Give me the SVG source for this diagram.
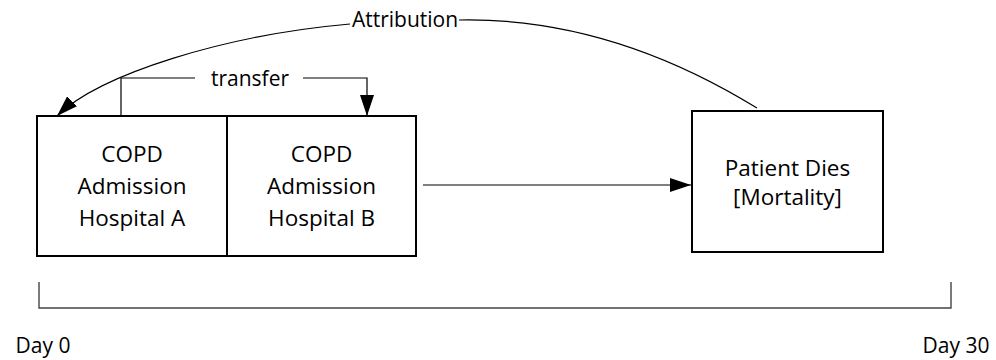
<svg xmlns="http://www.w3.org/2000/svg" width="996" height="360" viewBox="0 0 996 360">
<style>
.box{fill:#fff;stroke:#000;stroke-width:2}
.lbl{font-family:"Open Sans","Liberation Sans",sans-serif;font-size:22.5px;fill:#000;text-anchor:middle}
.sm{font-family:"Open Sans","Liberation Sans",sans-serif;font-size:21px;fill:#000;text-anchor:middle}
.con{fill:none;stroke:#000;stroke-width:1.2}
.brk{fill:none;stroke:#444;stroke-width:1.4}
</style>
<defs>
<marker id="arr" markerUnits="userSpaceOnUse" markerWidth="21" markerHeight="14" refX="21" refY="7" orient="auto">
<path d="M0,0 L21,7 L0,14 z" fill="#000"/>
</marker>
</defs>
<rect width="996" height="360" fill="#fff"/>
<g id="hospitalA">
<rect class="box" x="37" y="116" width="190" height="140"/>
<text class="lbl" x="132" y="162">COPD</text>
<text class="lbl" x="132" y="194">Admission</text>
<text class="lbl" x="132" y="226">Hospital A</text>
</g>
<g id="hospitalB">
<rect class="box" x="227" y="116" width="189" height="140"/>
<text class="lbl" x="321.5" y="162">COPD</text>
<text class="lbl" x="321.5" y="194">Admission</text>
<text class="lbl" x="321.5" y="226">Hospital B</text>
</g>
<g id="patientDies">
<rect class="box" x="692" y="111" width="191" height="141"/>
<text class="lbl" x="787.5" y="176">Patient Dies</text>
<text class="lbl" x="787.5" y="205">[Mortality]</text>
</g>
<g id="connectors">
<path class="con" d="M121,116 V78 H195"/>
<path class="con" d="M303,78 H367 V116" marker-end="url(#arr)"/>
<text class="sm" x="250" y="86">transfer</text>
<line class="con" x1="423" y1="185" x2="691" y2="185" marker-end="url(#arr)"/>
<path class="con" d="M757,108 Q609,17 459,20"/>
<path class="con" d="M350,24 C225,35 100,74 57,116" marker-end="url(#arr)"/>
<text class="sm" x="405" y="27">Attribution</text>
</g>
<g id="timeline">
<path class="brk" d="M39,282 V308 H951 V282"/>
<text class="sm" x="43" y="353">Day 0</text>
<text class="sm" x="956" y="353">Day 30</text>
</g>
</svg>
